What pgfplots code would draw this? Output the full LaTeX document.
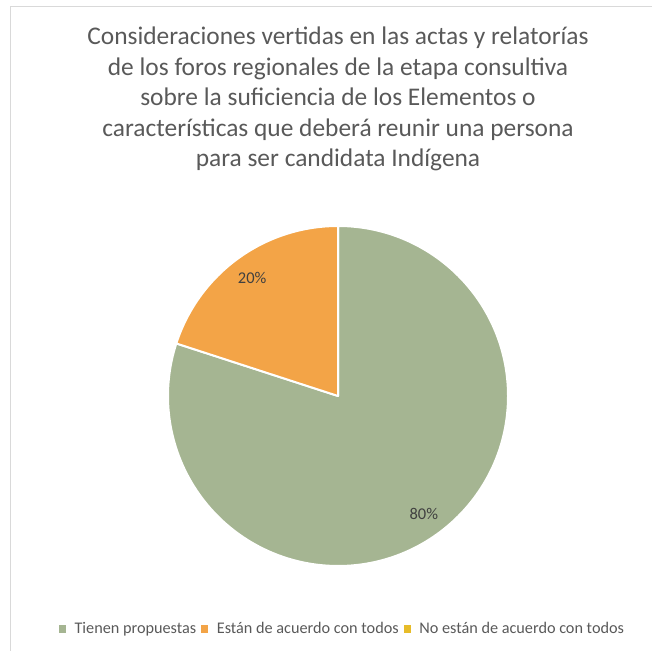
\documentclass[border=0pt]{standalone}
\usepackage{pgfplots}
\pgfplotsset{compat=1.18}
\usepackage{pgfplotstable}
\usepackage{fontspec}
\setmainfont{Carlito}
\definecolor{pgreen}{HTML}{A5B592}
\definecolor{porange}{HTML}{F3A447}
\definecolor{pyellow}{HTML}{E7BC29}
\definecolor{ttext}{HTML}{595959}
\definecolor{ltext}{HTML}{404040}
\definecolor{framec}{HTML}{D9D9D9}
\pgfplotstableread[col sep=comma]{
label,value
Tienen propuestas,80
Están de acuerdo con todos,20
No están de acuerdo con todos,0
}\piedata
\begin{document}
\begin{tikzpicture}
\pgfplotstablegetelem{0}{value}\of\piedata \edef\va{\pgfplotsretval}
\pgfplotstablegetelem{1}{value}\of\piedata \edef\vb{\pgfplotsretval}
\pgfplotstablegetelem{2}{value}\of\piedata \edef\vc{\pgfplotsretval}
\pgfmathsetmacro\aA{90}
\pgfmathsetmacro\aB{90-3.6*\va}
\pgfmathsetmacro\aC{\aB-3.6*\vb}
\pgfmathsetmacro\mA{(\aA+\aB)/2}
\pgfmathsetmacro\mB{(\aB+\aC)/2}
\pgfmathsetmacro\lAx{338+146*cos(\mA)}
\pgfmathsetmacro\lAy{255+146*sin(\mA)}
\pgfmathsetmacro\lBx{338+146*cos(\mB)}
\pgfmathsetmacro\lBy{255+146*sin(\mB)}
\pgfmathsetmacro\sAx{338+170*cos(\aA)}
\pgfmathsetmacro\sAy{255+170*sin(\aA)}
\pgfmathsetmacro\sBx{338+170*cos(\aB)}
\pgfmathsetmacro\sBy{255+170*sin(\aB)}
\begin{axis}[
  at={(0,0)}, anchor=south west,
  scale only axis, width=652bp, height=651bp,
  xmin=0, xmax=652, ymin=0, ymax=651,
  hide axis, clip=false,
  legend columns=3,
  legend style={at={(axis cs:341.5,22)}, anchor=center, draw=none, fill=none,
    inner sep=0pt, font=\fontsize{16.3}{19}\selectfont, text=ttext,
    nodes={inner sep=0pt},
    /tikz/every even column/.append style={column sep=5bp},
    /tikz/every odd column/.append style={column sep=8.6bp}},
  legend image code/.code={\fill[#1] (0bp,-3.5bp) rectangle (7bp,3.5bp);},
]
\addlegendimage{fill=pgreen, draw=none}
\addlegendimage{fill=porange, draw=none}
\addlegendimage{fill=pyellow, draw=none}
\legend{Tienen propuestas, Están de acuerdo con todos, No están de acuerdo con todos}
\draw[framec, line width=1.5bp] (axis cs:10.5,0) -- (axis cs:10.5,644.5) -- (axis cs:652,644.5);
\fill[pgreen, draw=white, line width=2bp, line join=round] (axis cs:338,255) -- (axis cs:\sAx,\sAy) arc[start angle=\aA, end angle=\aB, radius=170bp] -- cycle;
\fill[porange, draw=white, line width=2bp, line join=round] (axis cs:338,255) -- (axis cs:\sBx,\sBy) arc[start angle=\aB, end angle=\aC, radius=170bp] -- cycle;
\node[text=ltext, font=\fontsize{16.5}{20}\selectfont] at (axis cs:\lAx,\lAy) {\va\%};
\node[text=ltext, font=\fontsize{16.5}{20}\selectfont] at (axis cs:\lBx,\lBy) {\vb\%};
\begin{scope}[every node/.style={anchor=base, text=ttext, font=\fontsize{25.5}{30}\selectfont}]
\node at (axis cs:338,606) {Consideraciones vertidas en las actas y relatorías};
\node at (axis cs:338,575.5) {de los foros regionales de la etapa consultiva};
\node at (axis cs:338,545) {sobre la suficiencia de los Elementos o};
\node at (axis cs:338,514.5) {características que deberá reunir una persona};
\node at (axis cs:338,484) {para ser candidata Indígena};
\end{scope}
\end{axis}
\pgfresetboundingbox
\path[use as bounding box] (0,0) rectangle (652bp,651bp);
\end{tikzpicture}
\end{document}
